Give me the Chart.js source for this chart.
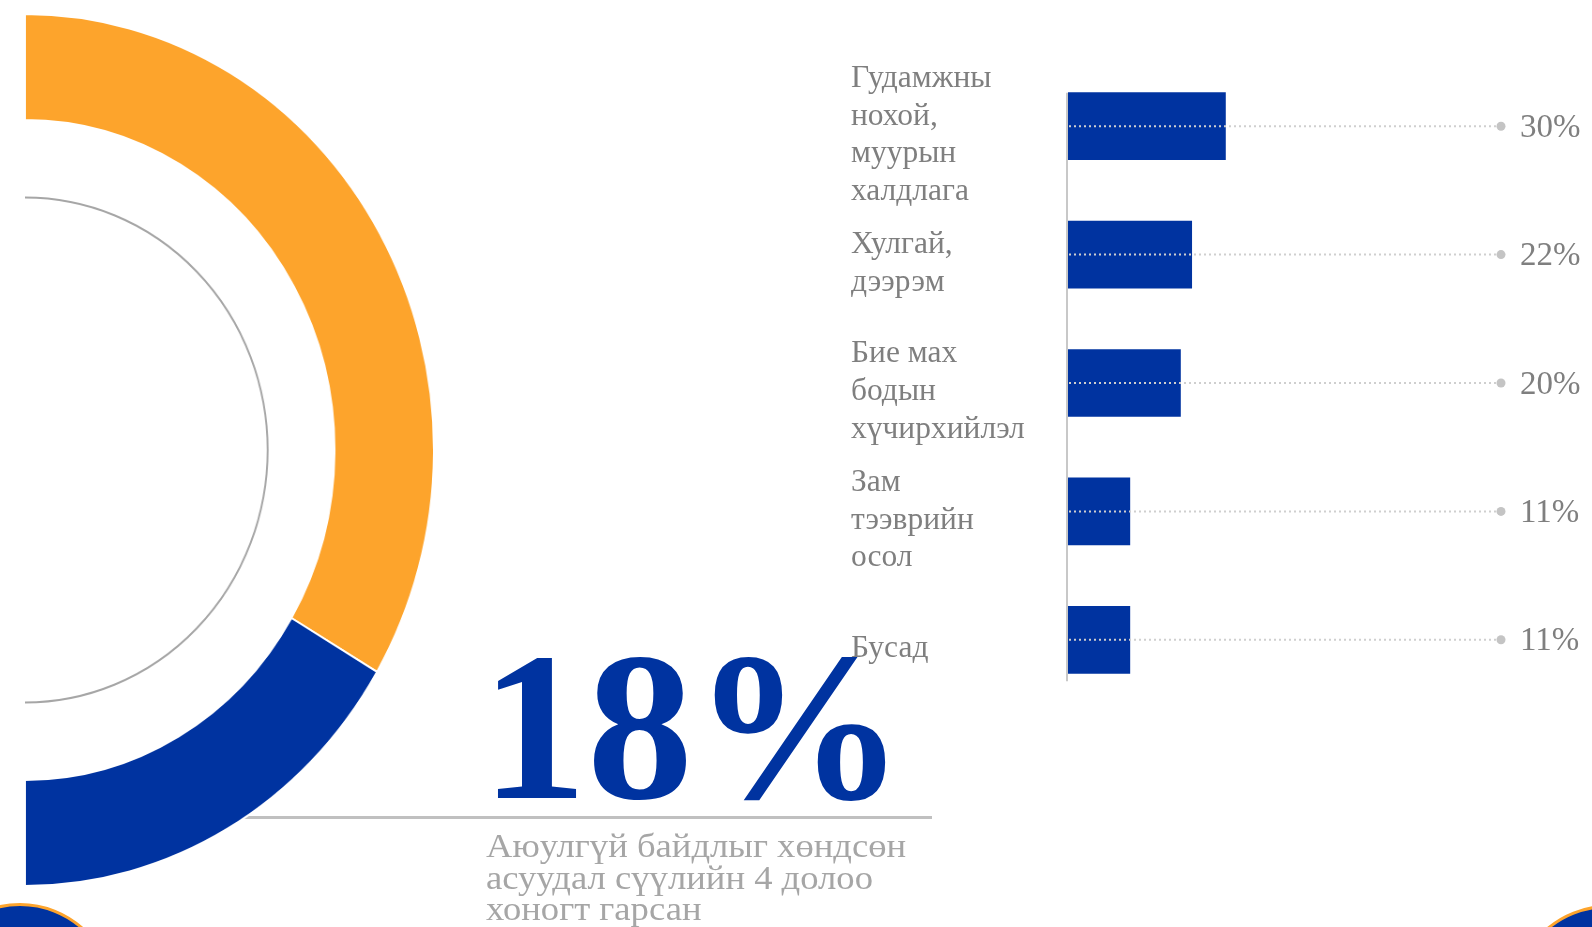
<!DOCTYPE html>
<html lang="mn">
<head>
<meta charset="UTF-8">
<title>Аюулгүй байдлыг хөндсөн асуудал</title>
<script src="https://cdn.jsdelivr.net/npm/chart.js"></script>
<style>
  html, body { margin: 0; padding: 0; background: #fff; }
  body { width: 1592px; height: 927px; position: relative; overflow: hidden; font-family: "Liberation Serif", serif; }
  .rule { position: absolute; left: 24px; top: 816px; width: 908px; height: 3px; background: #c0c0c0; }
  #ringBox { position: absolute; left: 24px; top: 12px; width: 438px; height: 876px; transform: scaleX(0.938); transform-origin: left top; }
  #barBox { position: absolute; left: 840px; top: 0; width: 752px; height: 760px; }
  .big { position: absolute; left: 481px; top: 621px; font-size: 212px; font-weight: bold; line-height: 1; color: #0033a0; white-space: nowrap; }
  .note { position: absolute; left: 486px; top: 831px; font-size: 33px; line-height: 31.5px; color: #a6a6a6; white-space: nowrap; transform: scaleX(1.11); transform-origin: left top; }
  .badge { position: absolute; width: 190px; height: 190px; border-radius: 50%; background: #0033a0; border: 3px solid #fda42c; box-sizing: border-box; }
</style>
</head>
<body>

<div class="rule"></div>
<div id="ringBox"><canvas id="ringChart"></canvas></div>
<div id="barBox"><canvas id="barChart"></canvas></div>

<div class="big">18%</div>
<div class="note">Аюулгүй байдлыг хөндсөн<br>асуудал сүүлийн 4 долоо<br>хоногт гарсан</div>

<div class="badge" style="left:-75px; top:903px;"></div>
<div class="badge" style="left:1513px; top:905px;"></div>

<script>
  // half ring on the left
  const ringLabels = ["Бусад", "Аюулгүй байдлыг хөндсөн"];
  const ringValues = [67, 33];
  const ringColors = ["#fda42c", "#0033a0"];

  // horizontal bars on the right
  const categories = [
    ["Гудамжны", "нохой,", "муурын", "халдлага"],
    ["Хулгай,", "дээрэм"],
    ["Бие мах", "бодын", "хүчирхийлэл"],
    ["Зам", "тээврийн", "осол"],
    ["Бусад"]
  ];
  const barValues = [28, 22, 20, 11, 11];
  const valueLabels = ["30%", "22%", "20%", "11%", "11%"];

  const innerRing = {
    id: "innerRing",
    afterDatasetsDraw(chart) {
      const arc = chart.getDatasetMeta(0).data[0];
      const r = arc.outerRadius * 0.579;
      const ctx = chart.ctx;
      ctx.save();
      ctx.beginPath();
      ctx.ellipse(arc.x, arc.y, r * 1.025, r, 0, -Math.PI / 2, Math.PI / 2);
      ctx.strokeStyle = "#a6a6a6";
      ctx.lineWidth = 2;
      ctx.stroke();
      ctx.restore();
    }
  };

  new Chart(document.getElementById("ringChart"), {
    type: "doughnut",
    data: {
      labels: ringLabels,
      datasets: [{
        data: ringValues,
        backgroundColor: ringColors,
        borderColor: "#fff",
        borderWidth: 2
      }]
    },
    options: {
      responsive: true,
      maintainAspectRatio: false,
      animation: false,
      rotation: 0,
      circumference: 180,
      cutout: "75.7%",
      layout: { padding: 0 },
      plugins: { legend: { display: false }, tooltip: { enabled: false } }
    },
    plugins: [innerRing]
  });

  const barDecor = {
    id: "barDecor",
    afterDatasetsDraw(chart) {
      const { ctx, chartArea } = chart;
      const bars = chart.getDatasetMeta(0).data;
      const x0 = chart.scales.x.getPixelForValue(0);
      const last = bars[bars.length - 1];
      ctx.save();
      ctx.strokeStyle = "#c8c8c8";
      ctx.lineWidth = 2;
      ctx.beginPath();
      ctx.moveTo(x0 - 1, bars[0].y - bars[0].height / 2);
      ctx.lineTo(x0 - 1, last.y + last.height / 2 + 8);
      ctx.stroke();

      bars.forEach((bar, i) => {
        ctx.setLineDash([2, 3]);
        ctx.strokeStyle = "#cfcfcf";
        ctx.lineWidth = 2;
        ctx.beginPath();
        ctx.moveTo(x0 + 1, bar.y);
        ctx.lineTo(chartArea.right, bar.y);
        ctx.stroke();
        ctx.setLineDash([]);
        ctx.fillStyle = "#c4c4c4";
        ctx.beginPath();
        ctx.arc(chartArea.right, bar.y, 4.5, 0, Math.PI * 2);
        ctx.fill();
        ctx.fillStyle = "#7f7f7f";
        ctx.font = "33px 'Liberation Serif', serif";
        ctx.textAlign = "left";
        ctx.textBaseline = "middle";
        ctx.fillText(valueLabels[i], chartArea.right + 19, bar.y + 2);
      });
      ctx.restore();
    }
  };

  new Chart(document.getElementById("barChart"), {
    type: "bar",
    data: {
      labels: categories,
      datasets: [{
        data: barValues,
        backgroundColor: "#0033a0",
        barThickness: 67
      }]
    },
    options: {
      indexAxis: "y",
      responsive: true,
      maintainAspectRatio: false,
      animation: false,
      layout: { padding: { left: 11, top: 62, right: 91, bottom: 56 } },
      scales: {
        x: { display: false, min: 0, max: 77 },
        y: {
          grid: { display: false },
          border: { display: false },
          afterFit: (axis) => {
            axis.width = 217;
            axis.paddingTop = 0;
            axis.paddingBottom = 0;
          },
          ticks: {
            autoSkip: false,
            crossAlign: "far",
            labelOffset: 9,
            padding: 0,
            color: "#7f7f7f",
            font: { family: "'Liberation Serif', serif", size: 31.5, lineHeight: 1.2 }
          }
        }
      },
      plugins: { legend: { display: false }, tooltip: { enabled: false } }
    },
    plugins: [barDecor]
  });
</script>

</body>
</html>
